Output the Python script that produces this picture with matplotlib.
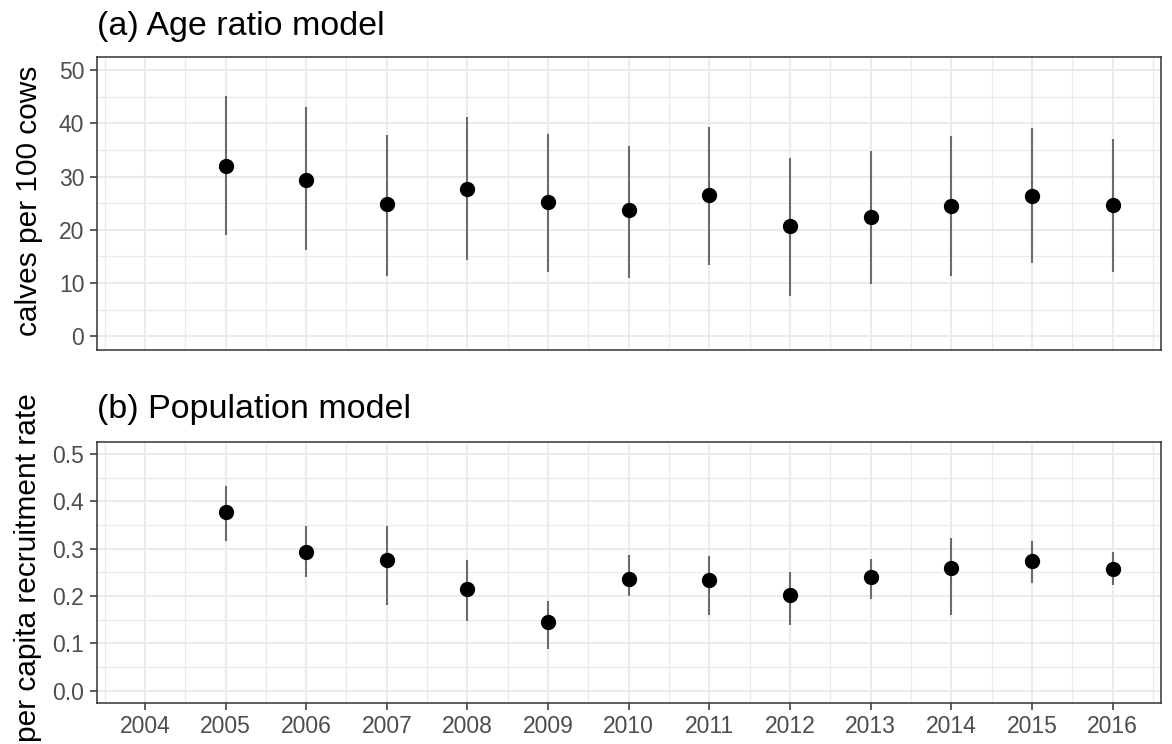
import matplotlib
matplotlib.use("Agg")
import matplotlib.pyplot as plt
from matplotlib.ticker import MultipleLocator

plt.rcParams['font.family'] = ['Liberation Sans', 'DejaVu Sans']

years = [2005, 2006, 2007, 2008, 2009, 2010, 2011, 2012, 2013, 2014, 2015, 2016]

# (a) calves per 100 cows: estimate with lower / upper interval bounds
age_est = [32.0, 29.4, 24.8, 27.7, 25.2, 23.8, 26.5, 20.8, 22.5, 24.5, 26.3, 24.6]
age_lo = [19.1, 16.3, 11.4, 14.4, 12.0, 10.9, 13.4, 7.5, 9.9, 11.4, 13.8, 12.0]
age_hi = [45.1, 43.1, 37.9, 41.2, 38.1, 35.8, 39.4, 33.5, 34.8, 37.7, 39.2, 37.0]

# (b) per capita recruitment rate: estimate with lower / upper interval bounds
pop_est = [0.377, 0.293, 0.276, 0.215, 0.145, 0.236, 0.233, 0.202, 0.241, 0.258, 0.273, 0.257]
pop_lo = [0.317, 0.241, 0.181, 0.148, 0.087, 0.200, 0.159, 0.139, 0.194, 0.159, 0.227, 0.223]
pop_hi = [0.433, 0.347, 0.347, 0.276, 0.190, 0.287, 0.284, 0.250, 0.278, 0.322, 0.315, 0.292]

x_ticks = list(range(2004, 2017))

W, H = 1172, 744
fig = plt.figure(figsize=(W / 100, H / 100), dpi=100)

TICK_FS = 16.5
LABEL_FS = 21.5
TITLE_FS = 24.5


def box(left, top, right, bottom):
    return [left / W, (H - bottom) / H, (right - left) / W, (bottom - top) / H]


ax_a = fig.add_axes(box(96.5, 57, 1161, 349.5))
ax_b = fig.add_axes(box(96.5, 442, 1161, 702.5))


def style(ax, ymax, ystep, show_x):
    ax.set_xlim(2003.4, 2016.6)
    ax.set_ylim(-0.05 * ymax, 1.05 * ymax)
    ax.set_xticks(x_ticks)
    ax.xaxis.set_minor_locator(MultipleLocator(0.5))
    ax.yaxis.set_major_locator(MultipleLocator(ystep))
    ax.yaxis.set_minor_locator(MultipleLocator(ystep / 2))
    ax.grid(which='major', color='#EBEBEB', linewidth=1.5, zorder=0)
    ax.grid(which='minor', color='#EBEBEB', linewidth=0.9, zorder=0)
    ax.set_axisbelow(True)
    for sp in ax.spines.values():
        sp.set_color('#333333')
        sp.set_linewidth(1.1)
    ax.tick_params(which='major', length=4.8, width=1.1, color='#333333',
                   labelsize=TICK_FS, labelcolor='#4D4D4D', pad=4)
    ax.tick_params(which='minor', length=0)
    if not show_x:
        ax.tick_params(axis='x', which='both', length=0, labelbottom=False)


def draw(ax, est, lo, hi):
    ax.vlines(years, lo, hi, colors='#6b6b6b', linewidth=1.5, zorder=2)
    ax.plot(years, est, 'o', color='black', markersize=10, zorder=3)


style(ax_a, 50, 10, False)
draw(ax_a, age_est, age_lo, age_hi)
ax_a.yaxis.set_major_formatter(plt.FuncFormatter(lambda v, p: f"{v:.0f}"))

style(ax_b, 0.5, 0.1, True)
draw(ax_b, pop_est, pop_lo, pop_hi)
ax_b.yaxis.set_major_formatter(plt.FuncFormatter(lambda v, p: f"{v:.1f}"))

fig.text(29 / W, 1 - 201 / H, 'calves per 100 cows', fontsize=LABEL_FS,
         rotation=90, ha='center', va='center')
fig.text(28 / W, 1 - 568 / H, 'per capita recruitment rate', fontsize=LABEL_FS,
         rotation=90, ha='center', va='center')

fig.text(97 / W, 1 - 35 / H, '(a) Age ratio model', fontsize=TITLE_FS, va='baseline', ha='left')
fig.text(97 / W, 1 - 418 / H, '(b) Population model', fontsize=TITLE_FS, va='baseline', ha='left')

fig.savefig('out.png', dpi=100)
